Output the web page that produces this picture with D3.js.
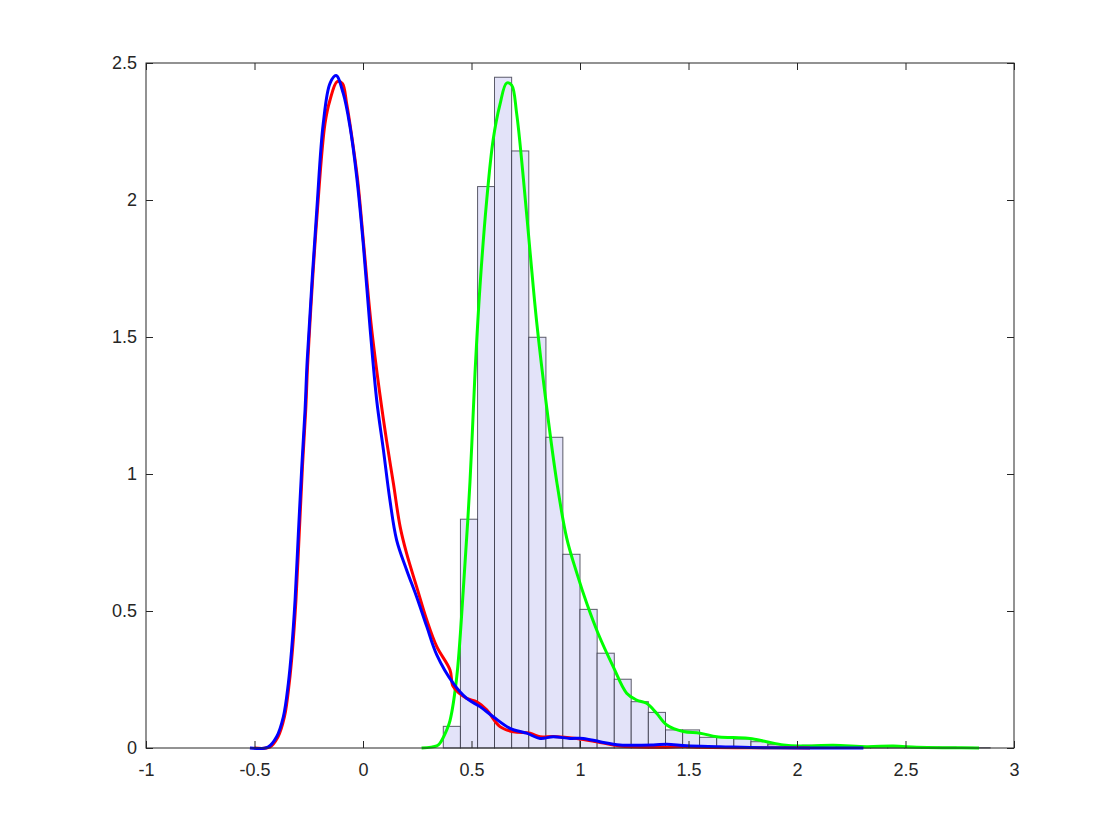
<!DOCTYPE html>
<html>
<head>
<meta charset="utf-8">
<script src="https://cdn.jsdelivr.net/npm/d3@7"></script>
<style>
  html, body { margin: 0; padding: 0; background: #ffffff; }
  svg { display: block; }
  text { font-family: "Liberation Sans", Arial, Helvetica, sans-serif; }
</style>
</head>
<body>
<svg id="chart" width="1120" height="840"></svg>
<script>
// ---------- data ----------
const xTicks = [-1, -0.5, 0, 0.5, 1, 1.5, 2, 2.5, 3];
const yTicks = [0, 0.5, 1, 1.5, 2, 2.5];
const xTickLabels = ["-1", "-0.5", "0", "0.5", "1", "1.5", "2", "2.5", "3"];
const yTickLabels = ["0", "0.5", "1", "1.5", "2", "2.5"];

const histEdges = [0.370, 0.449, 0.528, 0.606, 0.685, 0.764, 0.843, 0.921, 1.000, 1.079,
  1.158, 1.236, 1.315, 1.394, 1.473, 1.551, 1.630, 1.709, 1.788, 1.866, 1.945, 2.024,
  2.103, 2.181, 2.260, 2.339, 2.418, 2.496, 2.575, 2.654, 2.733, 2.811, 2.890];
const histHeights = [0.079, 0.835, 2.049, 2.448, 2.179, 1.499, 1.134, 0.707, 0.506, 0.346,
  0.251, 0.169, 0.130, 0.066, 0.066, 0.039, 0.039, 0.033, 0.023, 0.012, 0.008, 0.010,
  0.008, 0.006, 0.005, 0.006, 0.005, 0.004, 0.003, 0.003, 0.002, 0.001];

const greenX = [0.270, 0.340, 0.355, 0.386, 0.401, 0.432, 0.462, 0.493, 0.516, 0.539, 0.570,
  0.600, 0.631, 0.662, 0.685, 0.708, 0.739, 0.770, 0.800, 0.847, 0.893, 0.939, 0.985, 1.031,
  1.084, 1.153, 1.215, 1.261, 1.307, 1.353, 1.400, 1.476, 1.553, 1.630, 1.706, 1.783, 1.860,
  1.937, 2.014, 2.167, 2.321, 2.444, 2.552, 2.705, 2.839];
const greenY = [0.000, 0.008, 0.018, 0.066, 0.100, 0.259, 0.575, 0.971, 1.366, 1.683, 1.999,
  2.221, 2.348, 2.427, 2.419, 2.316, 2.079, 1.810, 1.557, 1.240, 0.971, 0.765, 0.639, 0.528,
  0.417, 0.297, 0.200, 0.175, 0.163, 0.127, 0.084, 0.060, 0.054, 0.041, 0.038, 0.035, 0.023,
  0.011, 0.007, 0.010, 0.005, 0.007, 0.003, 0.001, 0.000];

const redX = [-0.500, -0.430, -0.392, -0.362, -0.340, -0.325, -0.309, -0.294, -0.279, -0.264,
  -0.254, -0.210, -0.175, -0.152, -0.119, -0.095, -0.075, -0.055, -0.025, 0.003, 0.037, 0.078,
  0.109, 0.140, 0.171, 0.201, 0.247, 0.294, 0.340, 0.401, 0.416, 0.478, 0.524, 0.570, 0.631,
  0.693, 0.770, 0.816, 0.877, 0.985, 1.077, 1.184, 1.336, 1.492, 1.553, 1.829, 2.060];
const redY = [0.000, 0.003, 0.040, 0.114, 0.236, 0.358, 0.540, 0.780, 1.027, 1.234,
  1.416, 1.963, 2.280, 2.365, 2.432, 2.425, 2.350, 2.250, 2.075, 1.840, 1.550, 1.290,
  1.120, 0.966, 0.808, 0.710, 0.589, 0.467, 0.370, 0.285, 0.224, 0.181, 0.169, 0.139, 0.078,
  0.059, 0.054, 0.041, 0.042, 0.035, 0.023, 0.007, 0.003, 0.005, 0.003, 0.001, 0.000];

const blueX = [-0.521, -0.438, -0.398, -0.367, -0.344, -0.329, -0.313, -0.298, -0.282, -0.267,
  -0.257, -0.213, -0.183, -0.152, -0.124, -0.091, -0.060, -0.029, 0.001, 0.032, 0.063, 0.094,
  0.124, 0.155, 0.201, 0.247, 0.294, 0.340, 0.416, 0.478, 0.539, 0.600, 0.677, 0.754, 0.816,
  0.877, 0.954, 1.015, 1.092, 1.184, 1.338, 1.400, 1.492, 1.645, 1.860, 2.306];
const blueY = [0.000, 0.003, 0.041, 0.114, 0.236, 0.358, 0.540, 0.780, 1.027, 1.234,
  1.416, 1.963, 2.280, 2.426, 2.454, 2.389, 2.268, 2.085, 1.842, 1.538, 1.270, 1.088,
  0.905, 0.759, 0.650, 0.552, 0.443, 0.340, 0.236, 0.181, 0.151, 0.114, 0.072, 0.054, 0.035,
  0.041, 0.035, 0.035, 0.023, 0.011, 0.011, 0.014, 0.008, 0.005, 0.001, 0.000];

// ---------- layout ----------
const svg = d3.select("#chart");
const mLeft = 146, mRight = 1014, mTop = 63, mBottom = 748;
const x = d3.scaleLinear().domain([-1, 3]).range([mLeft, mRight]);
const y = d3.scaleLinear().domain([0, 2.5]).range([mBottom, mTop]);
const axisColor = "#262626";

// histogram
const bins = histHeights.map((h, i) => ({ x0: histEdges[i], x1: histEdges[i + 1], h }));
svg.append("g").selectAll("rect").data(bins).join("rect")
  .attr("x", d => x(d.x0))
  .attr("y", d => y(d.h))
  .attr("width", d => x(d.x1) - x(d.x0))
  .attr("height", d => y(0) - y(d.h))
  .attr("fill", "#e3e3f9")
  .attr("stroke", "#2a2a3a")
  .attr("stroke-opacity", 0.75)
  .attr("stroke-width", 1);

// curves
const line = d3.line().x(d => x(d[0])).y(d => y(d[1])).curve(d3.curveCatmullRom.alpha(0.5));
function drawCurve(xs, ys, color) {
  svg.append("path")
    .datum(xs.map((v, i) => [v, ys[i]]))
    .attr("d", line)
    .attr("fill", "none")
    .attr("stroke", color)
    .attr("stroke-width", 3)
    .attr("stroke-linejoin", "round")
    .attr("stroke-linecap", "butt");
}
drawCurve(greenX, greenY, "#00ff00");
drawCurve(redX, redY, "#ff0000");
drawCurve(blueX, blueY, "#0000ff");

// axes box and ticks (MATLAB style, ticks inside)
const tickLen = 7;
const axG = svg.append("g");
axG.append("rect")
  .attr("x", mLeft).attr("y", mTop)
  .attr("width", mRight - mLeft).attr("height", mBottom - mTop)
  .attr("fill", "none").attr("stroke", axisColor).attr("stroke-width", 1);

const xAxisB = d3.axisBottom(x).tickValues(xTicks).tickSizeInner(-tickLen).tickSizeOuter(0)
  .tickPadding(15).tickFormat((d, i) => xTickLabels[i]);
const xAxisT = d3.axisTop(x).tickValues(xTicks).tickSizeInner(-tickLen).tickSizeOuter(0)
  .tickFormat("");
const yAxisL = d3.axisLeft(y).tickValues(yTicks).tickSizeInner(-tickLen).tickSizeOuter(0)
  .tickPadding(9).tickFormat((d, i) => yTickLabels[i]);
const yAxisR = d3.axisRight(y).tickValues(yTicks).tickSizeInner(-tickLen).tickSizeOuter(0)
  .tickFormat("");

function styleAxis(g) {
  g.select(".domain").remove();
  g.selectAll("line").attr("stroke", axisColor);
  g.selectAll("text").attr("fill", axisColor).style("font-size", "18px")
    .style("font-family", "'Liberation Sans', Arial, Helvetica, sans-serif");
}
axG.append("g").attr("transform", `translate(0,${mBottom})`).call(xAxisB).call(styleAxis);
axG.append("g").attr("transform", `translate(0,${mTop})`).call(xAxisT).call(styleAxis);
axG.append("g").attr("transform", `translate(${mLeft},0)`).call(yAxisL).call(styleAxis);
axG.append("g").attr("transform", `translate(${mRight},0)`).call(yAxisR).call(styleAxis);
</script>
</body>
</html>
